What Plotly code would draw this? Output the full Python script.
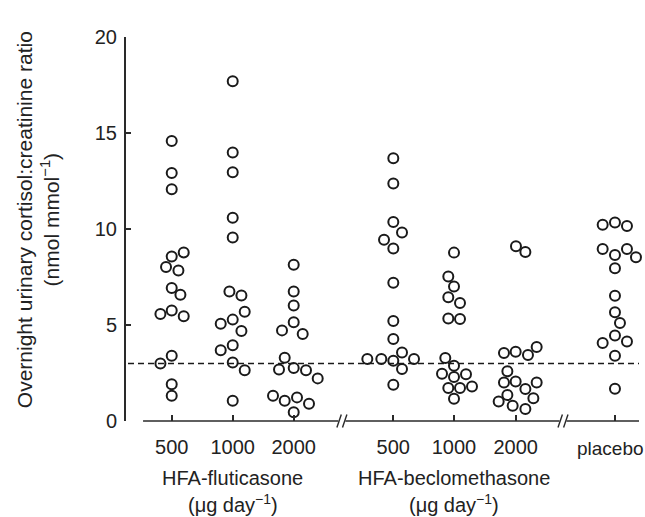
import plotly.graph_objects as go

# ---- data ----
tick_labels = ["500", "1000", "2000", "500", "1000", "2000", ""]
placebo_label = "placebo"
group_names = ["HFA-fluticasone", "HFA-beclomethasone"]
dose_unit = "(μg day<sup>−1</sup>)"
y_title = "Overnight urinary cortisol:creatinine ratio<br>(nmol mmol<sup>−1</sup>)"
y_ticks = [0, 5, 10, 15, 20]
threshold = 3.0

flu_500 = [14.58, 12.92, 12.07, 8.78, 8.57, 8.02, 7.84, 6.93, 6.57, 5.57, 5.76, 5.45, 3.40, 2.99, 1.92, 1.32]
flu_1000 = [17.69, 13.98, 12.95, 10.58, 9.56, 6.75, 6.54, 5.69, 5.28, 5.07, 4.69, 3.95, 3.68, 3.05, 2.64, 1.06]
flu_2000 = [8.14, 6.75, 6.02, 5.14, 4.72, 4.53, 3.30, 2.68, 2.76, 2.64, 2.22, 1.32, 1.06, 1.23, 0.90, 0.46]
bec_500 = [13.68, 12.37, 10.36, 9.82, 9.44, 8.98, 7.20, 5.21, 4.27, 3.57, 3.23, 3.23, 3.14, 3.23, 2.71, 1.89]
bec_1000 = [8.77, 7.53, 7.01, 6.45, 6.14, 5.34, 5.31, 3.28, 2.88, 2.46, 2.44, 2.29, 1.72, 1.72, 1.80, 1.16]
bec_2000 = [9.10, 8.80, 3.54, 3.61, 3.44, 3.85, 2.59, 2.01, 2.06, 1.67, 2.01, 1.35, 1.02, 0.80, 1.18, 0.63]
placebo = [10.22, 10.34, 10.16, 8.96, 8.65, 8.96, 8.53, 7.96, 6.52, 5.66, 5.10, 4.06, 4.45, 4.14, 3.40, 1.68]

# ---- layout positions (x slots and beeswarm offsets in pixels) ----
slots = [1.0, 2.0, 3.0, 4.633, 5.628, 6.639, 8.267]
breaks = [3.79, 7.415]
offsets = [
    [0, 0, 0, 12, 0, -5.7, 6.7, 0, 8.7, -11.3, 0, 12, 0, -11.3, 0, 0],
    [0, 0, 0, 0, 0, -3.3, 8.7, 12, 0, -12, 8.7, 0, -12, 0, 12, 0],
    [0, 0, 0, 0, -11.7, 9, -9, -14.7, 0, 12.3, 24, -20.7, -9, 3.3, 15.3, 0],
    [0, 0, 0, 8.7, -9.3, 0, 0, 0, 0, 8.7, -26, -12, 0, 20.7, 8.7, 0],
    [0, -5.7, 0, -5.7, 6, -5.7, 6, -8.7, 0, -12, 12, 0, -5.7, 6, 18, 0],
    [0.3, 9.7, -11.7, 0, 12.3, 21, -8.3, -11.7, 0, 9.7, 21, -8.3, -17, -3, 17.7, 9.7],
    [-12.3, 0, 12, -12.3, 0, 12, 21, 0, 0, 0, 5, -12.3, 0, 12, 0, 0],
]
series = [flu_500, flu_1000, flu_2000, bec_500, bec_1000, bec_2000, placebo]

PX = 61.0  # pixels per slot unit
X_RANGE = [0.234, 8.661]
INK = "#1a1a1a"
AXC = "#2a2a2a"
TXT = "#222222"
FONT = "Liberation Sans, Arial, sans-serif"
PLOT_H = 384.0

fig = go.Figure()

for s, vals, offs in zip(slots, series, offsets):
    fig.add_trace(go.Scatter(
        x=[s + o / PX for o in offs],
        y=vals,
        mode="markers",
        marker=dict(symbol="circle-open", size=10, color=INK, line=dict(width=2, color=INK)),
        showlegend=False,
        hoverinfo="y",
        cliponaxis=False,
    ))

# dashed threshold line
fig.add_trace(go.Scatter(
    x=[X_RANGE[0] + 3 / PX, X_RANGE[1]], y=[threshold, threshold], mode="lines",
    line=dict(color=INK, width=1.5, dash="6px,4px"), showlegend=False, hoverinfo="skip",
))

shapes = []
# y axis line
shapes.append(dict(type="line", xref="paper", yref="paper", x0=0, x1=0, y0=0, y1=1,
                   line=dict(color=AXC, width=2)))
# x axis line with break gaps
gap = 3.5 / PX
segs = [(0.53, breaks[0] - gap), (breaks[0] + gap, breaks[1] - gap), (breaks[1] + gap, X_RANGE[1])]
for a, b in segs:
    shapes.append(dict(type="line", xref="x", yref="paper", x0=a, x1=b, y0=0, y1=0,
                       line=dict(color=AXC, width=1.5)))
# slash break marks
for c in breaks:
    for d in (-2.8, 2.8):
        shapes.append(dict(type="line", xref="x", yref="paper",
                           x0=c + (d - 2.2) / PX, x1=c + (d + 2.2) / PX,
                           y0=-6.5 / PLOT_H, y1=6.5 / PLOT_H,
                           line=dict(color=AXC, width=1.4)))

annotations = []
for i, name in enumerate(group_names):
    cx = slots[1] if i == 0 else slots[4]
    annotations.append(dict(xref="x", yref="paper", x=cx, y=-57 / PLOT_H, text=name,
                            showarrow=False, font=dict(size=20, color=TXT, family=FONT),
                            xanchor="center", yanchor="middle"))
    annotations.append(dict(xref="x", yref="paper", x=cx, y=-82 / PLOT_H, text=dose_unit,
                            showarrow=False, font=dict(size=20, color=TXT, family=FONT),
                            xanchor="center", yanchor="middle"))
annotations.append(dict(xref="x", yref="paper", x=slots[6] - 4.5 / PX, y=-27 / PLOT_H,
                        text=placebo_label, showarrow=False,
                        font=dict(size=19, color=TXT, family=FONT),
                        xanchor="center", yanchor="middle"))
annotations.append(dict(xref="paper", yref="paper", x=0, xshift=-87, y=0.523, text=y_title,
                        textangle=-90, showarrow=False,
                        font=dict(size=21, color=TXT, family=FONT),
                        xanchor="center", yanchor="middle"))

fig.update_layout(
    width=645, height=517,
    margin=dict(l=125, r=6, t=37, b=96, pad=0),
    paper_bgcolor="white", plot_bgcolor="white",
    font=dict(family=FONT, size=20, color=TXT),
    shapes=shapes, annotations=annotations,
    xaxis=dict(range=X_RANGE, showgrid=False, zeroline=False, showline=False,
               tickmode="array", tickvals=slots, ticktext=tick_labels,
               ticks="inside", ticklen=6, tickwidth=1.5, tickcolor=AXC,
               ticklabelstandoff=12,
               tickfont=dict(size=20, color=TXT, family=FONT)),
    yaxis=dict(range=[0, 20], showgrid=False, zeroline=False, showline=False,
               tickmode="array", tickvals=y_ticks,
               ticks="inside", ticklen=6, tickwidth=1.5, tickcolor=AXC,
               ticklabelstandoff=7,
               tickfont=dict(size=20, color=TXT, family=FONT)),
)

fig.write_html(
    "out.html",
    config={"displayModeBar": False},
    post_script="document.body.style.margin='0';document.body.style.overflow='hidden';",
)
